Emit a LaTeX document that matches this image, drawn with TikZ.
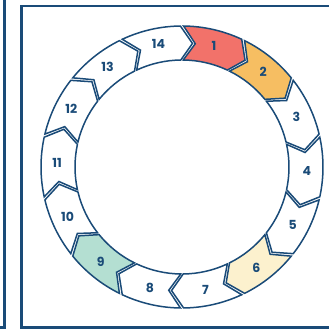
\documentclass[tikz,border=0pt]{standalone}
\usepackage{fontspec}
\setmainfont{Poppins}
\definecolor{navy}{HTML}{1A4B78}
\definecolor{segred}{HTML}{F2726A}
\definecolor{segorange}{HTML}{F6BE62}
\definecolor{segcream}{HTML}{FCF1CE}
\definecolor{segmint}{HTML}{B4DFD2}
\tikzset{
  frameline/.style={draw=navy, line width=2.5pt},
  segpath/.style={draw=navy, line width=1.5pt, line join=miter},
  seglabel/.style={text=navy, font=\bfseries\fontsize{12.5}{13}\selectfont, inner sep=0pt}
}
\begin{document}
\begin{tikzpicture}[x=1pt,y=1pt]
\useasboundingbox (0,0) rectangle (329,329);
\coordinate (fa) at (4.5,335);
\coordinate (fb) at (4.5,1.3);
\coordinate (fc) at (-5,1.3);
\draw[frameline] (fa) -- (fb) -- (fc);
\coordinate (ba) at (340,323);
\coordinate (bb) at (21.5,323);
\coordinate (bc) at (21.5,1.3);
\coordinate (bd) at (340,1.3);
\draw[frameline] (ba) -- (bb) -- (bc) -- (bd);
\begin{scope}[shift={(182,162)}]
\def\Ro{141}
\def\Ri{107}
\def\Rm{124}
\def\Rl{125}
\def\pp{5.5}
\def\gg{0.65}
\foreach \k/\col in {1/segred,2/segorange,3/white,4/white,5/white,6/segcream,7/white,8/white,9/segmint,10/white,11/white,12/white,13/white,14/white}{
  \pgfmathsetmacro{\aa}{90-(\k-1)*360/14-\gg}
  \pgfmathsetmacro{\ab}{90-\k*360/14+\gg}
  \pgfmathsetmacro{\ac}{\ab-\pp}
  \pgfmathsetmacro{\ad}{\aa-\pp}
  \pgfmathsetmacro{\am}{90-(\k-0.5)*360/14-2}
  \draw[segpath, fill=\col] (\aa:\Ro) arc[start angle=\aa, end angle=\ab, radius=\Ro pt]
     -- (\ac:\Rm) -- (\ab:\Ri) arc[start angle=\ab, end angle=\aa, radius=\Ri pt]
     -- (\ad:\Rm) -- cycle;
  \node[seglabel] (l\k) at (\am:\Rl) {\k};
}
\end{scope}
\end{tikzpicture}
\end{document}
